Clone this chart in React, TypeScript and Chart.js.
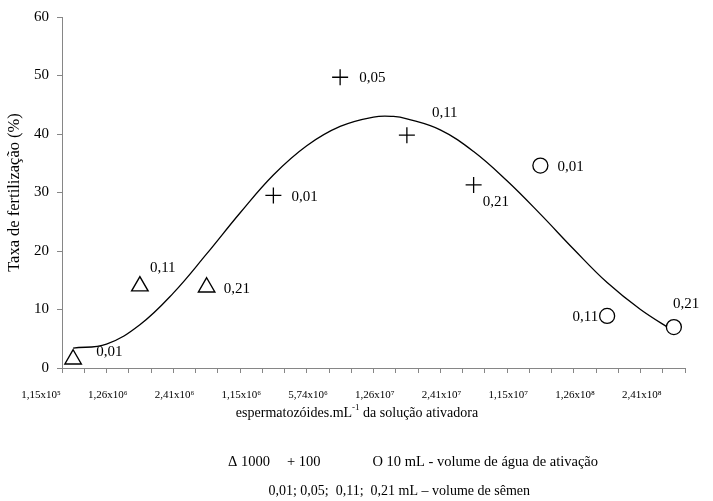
import React, { useEffect, useRef } from "react";
import { Chart, registerables } from "chart.js";

Chart.register(...registerables);

const FONT = '"Liberation Serif", "Times New Roman", serif';

// x categories (sperm concentration of the activating solution)
const xTickLabels = [
  "1,15x10⁵", "1,26x10⁶", "2,41x10⁶", "1,15x10⁶", "5,74x10⁶",
  "1,26x10⁷", "2,41x10⁷", "1,15x10⁷", "1,26x10⁸", "2,41x10⁸",
];

// Δ 1000 mL activation water
const idx1000 = [0, 1, 2];
const fert1000 = [1.5, 14.0, 13.8];
const vol1000 = ["0,01", "0,11", "0,21"];

// + 100 mL activation water
const idx100 = [3, 4, 5, 6];
const fert100 = [29.5, 49.7, 39.8, 31.3];
const vol100 = ["0,01", "0,05", "0,11", "0,21"];

// O 10 mL activation water
const idx10 = [7, 8, 9];
const fert10 = [34.6, 8.9, 7.0];
const vol10 = ["0,01", "0,11", "0,21"];

// trend curve
const trendX = [0.0, 0.5, 1.0, 1.5, 2.0, 2.5, 3.0, 3.5, 4.0, 4.5, 4.8, 5.0, 5.5, 6.0, 6.5, 7.0, 7.5, 8.0, 8.5, 9.0];
const trendY = [3.4, 4.1, 7.4, 12.8, 19.5, 26.5, 33.0, 38.0, 41.3, 42.9, 43.0, 42.6, 40.7, 37.0, 32.0, 26.3, 20.3, 14.6, 10.0, 6.3];

const yTitle = "Taxa de fertilização (%)";
const legendLine1 = ["Δ 1000", "+ 100", "O 10 mL - volume de água de ativação"];
const legendLine2 = "0,01; 0,05;  0,11;  0,21 mL – volume de sêmen";

// label placement (style): [dx, dy, align]
const lblStyle: Array<Array<[number, number, CanvasTextAlign]>> = [
  [[23, -7, "left"], [10, -18, "left"], [17, 2, "left"]],
  [[18, 2, "left"], [19, 1, "left"], [25, -22, "left"], [9, 17, "left"]],
  [[17, 1, "left"], [-9, 1, "right"], [-1, -23, "left"]],
];

const AXIS_GRAY = "#868686";

export default function App() {
  const ref = useRef<HTMLCanvasElement | null>(null);

  useEffect(() => {
    if (!ref.current) return;
    const toPts = (xs: number[], ys: number[]) => xs.map((x, i) => ({ x, y: ys[i] }));
    const volumes = [vol1000, vol100, vol10];

    const textPlugin = {
      id: "annotText",
      afterDatasetsDraw(chart: any) {
        const ctx = chart.ctx as CanvasRenderingContext2D;
        ctx.save();
        ctx.fillStyle = "#000";
        ctx.textBaseline = "middle";
        ctx.font = `15px ${FONT}`;
        volumes.forEach((vols, g) => {
          const meta = chart.getDatasetMeta(g + 1);
          vols.forEach((v, j) => {
            const el = meta.data[j];
            if (!el) return;
            const [dx, dy, al] = lblStyle[g][j];
            ctx.textAlign = al;
            ctx.fillText(v, el.x + dx, el.y + dy);
          });
        });

        // x axis title with superscript
        const parts: Array<[string, boolean]> = [
          ["espermatozóides.mL", false],
          ["-1", true],
          [" da solução ativadora", false],
        ];
        const normal = `14px ${FONT}`;
        const sup = `9px ${FONT}`;
        let total = 0;
        parts.forEach(([t, s]) => {
          ctx.font = s ? sup : normal;
          total += ctx.measureText(t).width;
        });
        let x = 357 - total / 2;
        const ty = 413;
        ctx.textAlign = "left";
        parts.forEach(([t, s]) => {
          ctx.font = s ? sup : normal;
          ctx.fillText(t, x, s ? ty - 5 : ty);
          x += ctx.measureText(t).width;
        });

        // bottom legend text
        ctx.font = `14.5px ${FONT}`;
        ctx.textAlign = "left";
        ctx.fillText(legendLine1[0], 228, 462);
        ctx.fillText(legendLine1[1], 287, 462);
        ctx.textAlign = "right";
        ctx.fillText(legendLine1[2], 598, 462);
        ctx.font = normal;
        ctx.fillText(legendLine2, 530, 491);
        ctx.restore();
      },
    };

    const chart = new Chart(ref.current, {
      type: "scatter",
      data: {
        datasets: [
          {
            type: "line",
            data: toPts(trendX, trendY),
            borderColor: "#000",
            borderWidth: 1.3,
            pointRadius: 0,
            tension: 0.4,
            fill: false,
            order: 4,
          } as any,
          {
            data: toPts(idx1000, fert1000),
            pointStyle: "triangle",
            pointRadius: 9.5,
            backgroundColor: "#fff",
            borderColor: "#000",
            borderWidth: 1.4,
            order: 1,
          },
          {
            data: toPts(idx100, fert100),
            pointStyle: "cross",
            pointRadius: 8,
            backgroundColor: "#000",
            borderColor: "#000",
            borderWidth: 1.3,
            order: 2,
          },
          {
            data: toPts(idx10, fert10),
            pointStyle: "circle",
            pointRadius: 7.5,
            backgroundColor: "#fff",
            borderColor: "#000",
            borderWidth: 1.3,
            order: 3,
          },
        ],
      },
      options: {
        responsive: false,
        animation: false,
        devicePixelRatio: 1,
        layout: { padding: { top: 17, right: 28, left: 0, bottom: 0 } },
        plugins: {
          legend: { display: false },
          tooltip: { enabled: false },
        },
        scales: {
          x: {
            type: "linear",
            min: -1 / 6,
            max: 9 + 1 / 6,
            afterBuildTicks: (s: any) => {
              s.ticks = Array.from({ length: 29 }, (_, k) => ({ value: -1 / 6 + k / 3 }));
            },
            afterFit: (s: any) => {
              s.height = 133;
            },
            ticks: {
              autoSkip: false,
              maxRotation: 0,
              minRotation: 0,
              labelOffset: -21,
              padding: 16,
              color: "#000",
              font: { family: FONT, size: 11 },
              callback: (_v: any, i: number) => (i % 3 === 0 && i / 3 < xTickLabels.length ? xTickLabels[i / 3] : ""),
            },
            grid: {
              display: true,
              drawOnChartArea: false,
              drawTicks: true,
              tickLength: 5,
              color: AXIS_GRAY,
              lineWidth: 1,
            },
            border: { display: true, color: AXIS_GRAY, width: 1 },
            title: { display: false },
          },
          y: {
            min: 0,
            max: 60,
            afterFit: (s: any) => {
              s.width = 62;
            },
            ticks: {
              stepSize: 10,
              padding: 8,
              color: "#000",
              font: { family: FONT, size: 15 },
            },
            grid: {
              display: true,
              drawOnChartArea: false,
              drawTicks: true,
              tickLength: 5,
              color: AXIS_GRAY,
              lineWidth: 1,
            },
            border: { display: true, color: AXIS_GRAY, width: 1 },
            title: {
              display: true,
              text: yTitle,
              color: "#000",
              font: { family: FONT, size: 16.5, weight: "normal" },
              padding: { top: 5, bottom: 0 },
            },
          },
        },
      },
      plugins: [textPlugin],
    });
    return () => chart.destroy();
  }, []);

  return (
    <div style={{ position: "fixed", left: 0, top: 0, width: 713, height: 501, background: "#fff" }}>
      <canvas ref={ref} width={713} height={501} style={{ width: 713, height: 501, display: "block" }} />
    </div>
  );
}
